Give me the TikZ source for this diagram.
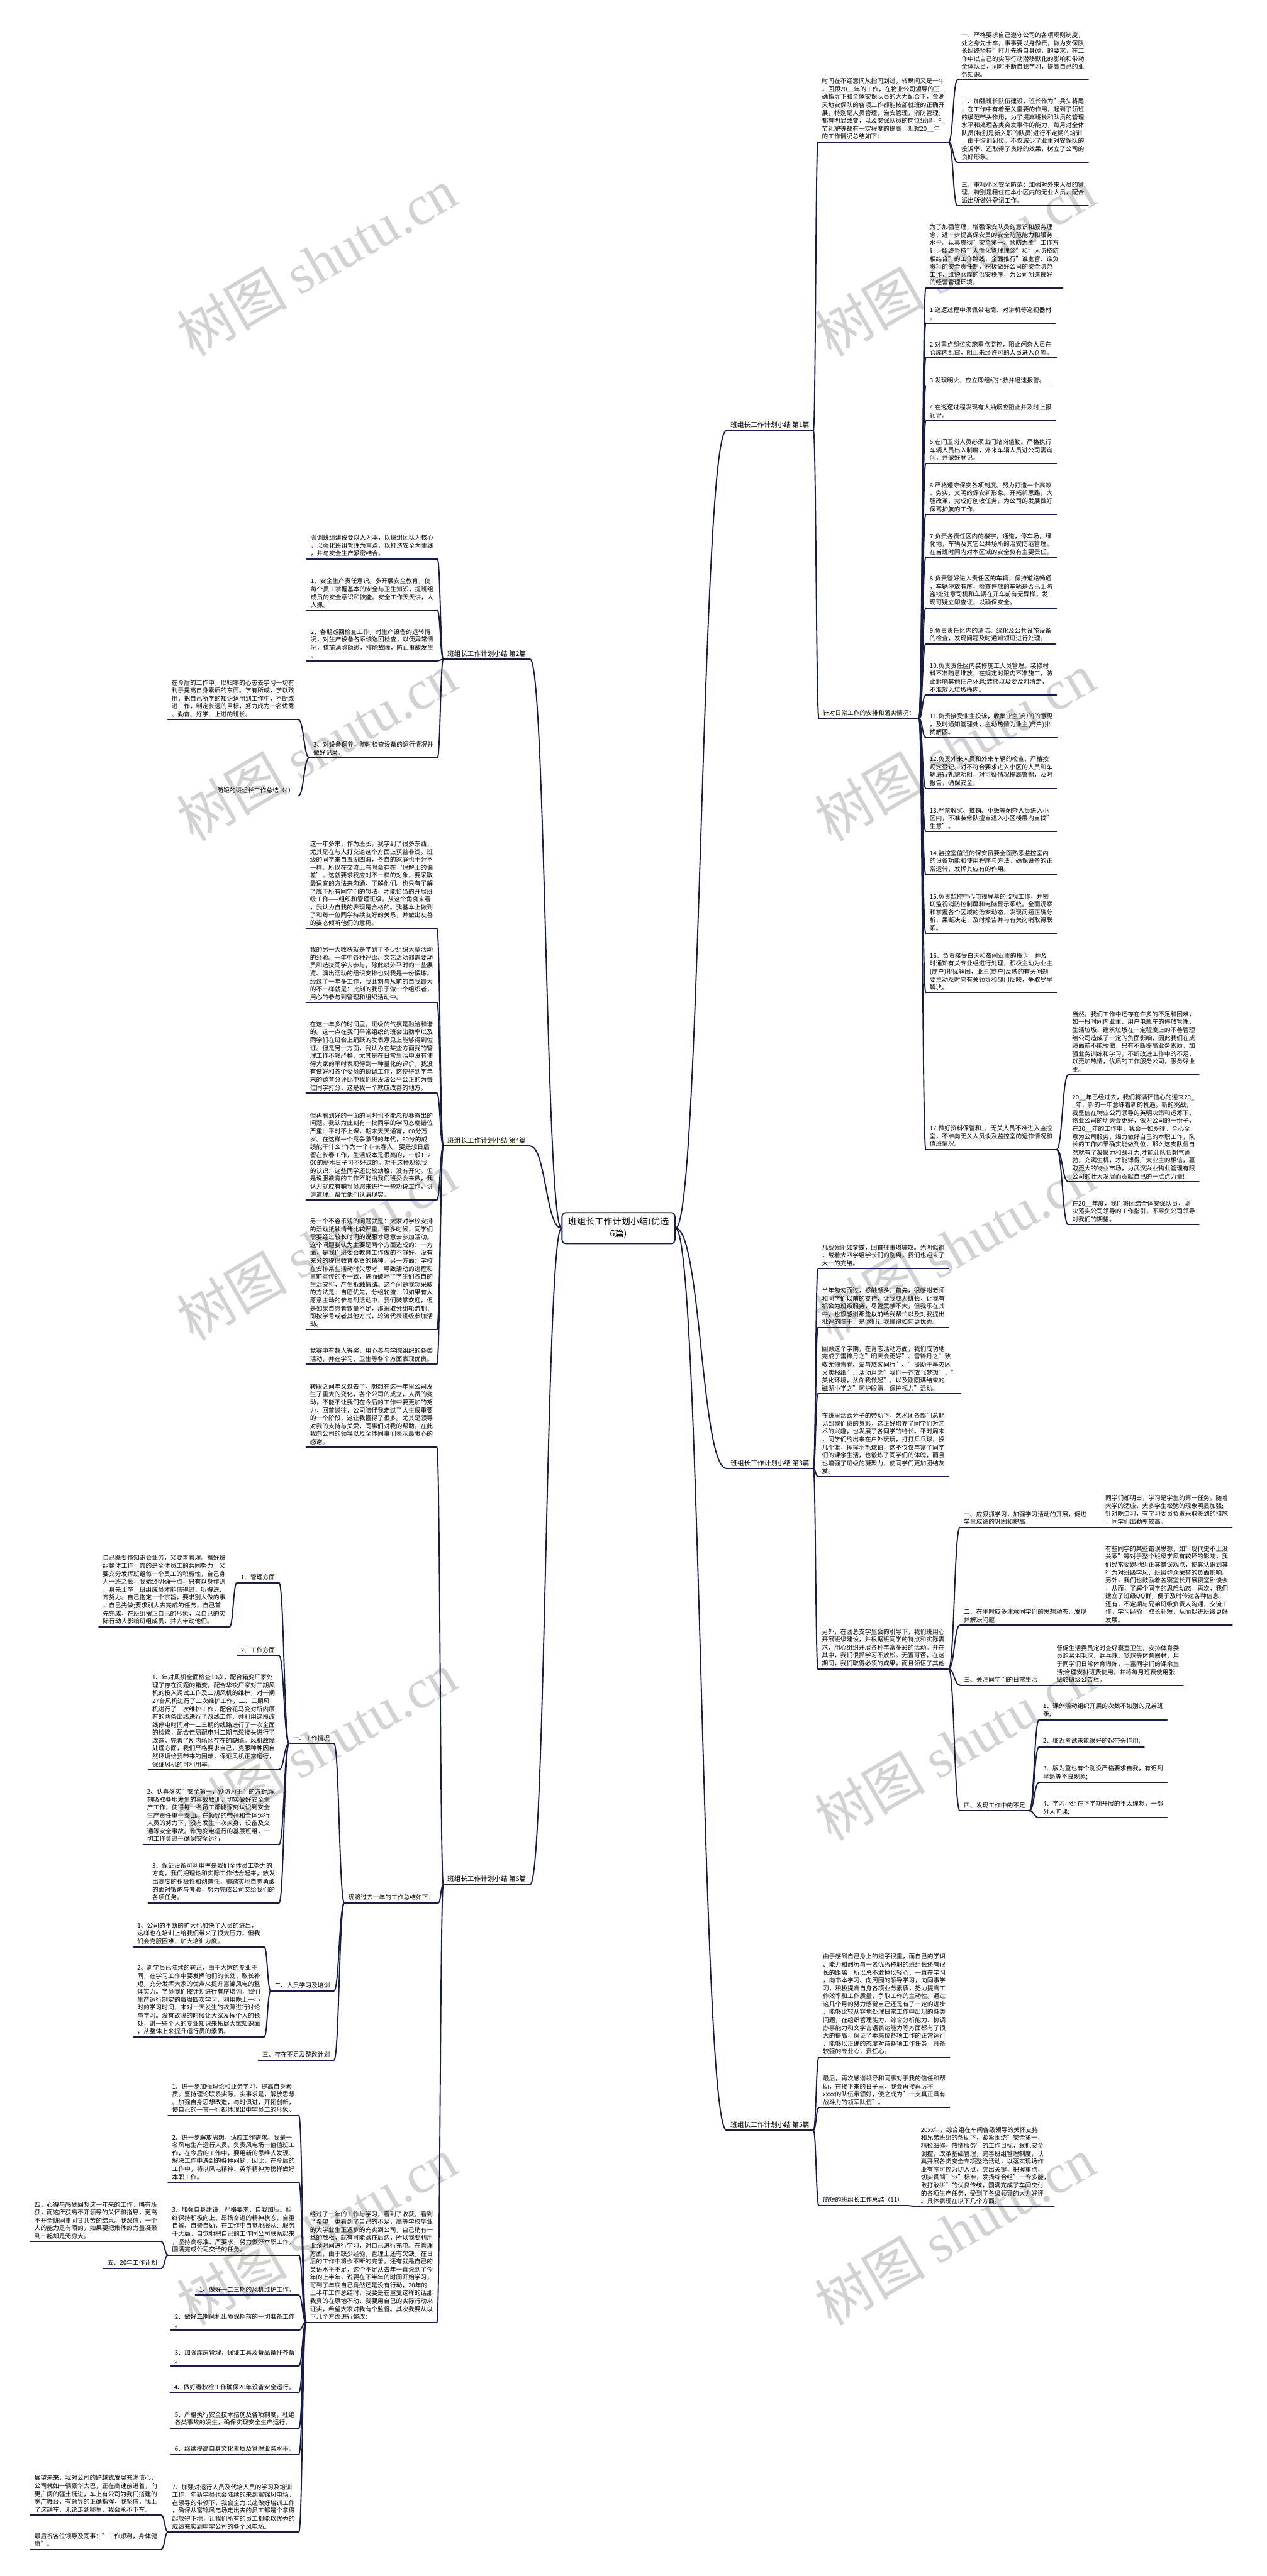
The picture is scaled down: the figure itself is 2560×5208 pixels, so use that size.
\documentclass[tikz,border=0pt]{standalone}
\usepackage{fontspec}
\setmainfont{Noto Sans CJK SC}
\newfontfamily\wmlatin{Liberation Serif}
\usetikzlibrary{calc}
\XeTeXlinebreaklocale "zh"
\definecolor{lc}{RGB}{22,28,70}
\definecolor{wmc}{RGB}{210,210,210}
\tikzset{
 tx/.style={font=\fontsize{12.4}{16}\selectfont, align=left, inner xsep=8pt, inner ysep=5pt, text=black},
 rn/.style={tx, anchor=south west},
 lnn/.style={tx, anchor=south east},
 lab/.style={font=\fontsize{13.5}{17}\selectfont, inner xsep=8pt, inner ysep=5pt},
 cn/.style={draw=lc, line width=2.4pt, line cap=round, to path={let \p1=(\tikztostart), \p2=(\tikztotarget) in .. controls ({0.5*\x1+0.5*\x2},\y1) and ({0.5*\x1+0.5*\x2},\y2) .. (\tikztotarget)}},
 ulin/.style={draw=lc, line width=2.4pt, line cap=round},
 wmk/.style={text=wmc, rotate=30, font=\fontsize{112}{112}\selectfont},
}
\begin{document}
\begin{tikzpicture}[x=1pt,y=-1pt]
\useasboundingbox (0,0) rectangle (2560,5208);
\fill[white] (0,0) rectangle (2560,5208);
% watermarks
\foreach \wx in {640,1930}{\foreach \wy in {530,1510,2520,3530,4510}{
 \node[wmk] at (\wx,\wy) {树图 {\wmlatin shutu.cn}};}}
% center
\node[draw=lc, line width=2.4pt, rounded corners=8pt, fill=white, align=center, font=\fontsize{18}{24}\selectfont, inner xsep=12pt, inner ysep=10pt] (C) at (1250,2483) {班组长工作计划小结(优选\\6篇)};
% ===== branch labels
\node[lab, anchor=south east] (B1) at (1644,870) {班组长工作计划小结 第1篇};
\node[lab, anchor=south east] (B3) at (1644,2969) {班组长工作计划小结 第3篇};
\node[lab, anchor=south east] (B5) at (1644,4307) {班组长工作计划小结 第5篇};
\node[lab, anchor=south west] (B2) at (896,1333) {班组长工作计划小结 第2篇};
\node[lab, anchor=south west] (B4) at (896,2317) {班组长工作计划小结 第4篇};
\node[lab, anchor=south west] (B6) at (896,3810) {班组长工作计划小结 第6篇};
% ===== 第1篇
\node[rn] (r1) at (1653,287) {时间在不经意间从指间划过，转瞬间又是一年\\，回顾20\_\_年的工作，在物业公司领导的正\\确指导下和全体安保队员的大力配合下，金湖\\天地安保队的各项工作都能按部就班的正确开\\展，特别是人员管理，治安管理，消防管理，\\都有明显改变，以及安保队员的岗位纪律，礼\\节礼貌等都有一定程度的提高，现就20\_\_年\\的工作情况总结如下：};
\node[rn] (r1a) at (1935,162) {一、严格要求自己遵守公司的各项规则制度，\\处之身先士卒，事事要以身做责，做为安保队\\长始终坚持"打儿先得自身硬，的要求，在工\\作中以自己的实际行动潜移默化的影响和带动\\全体队员，同时不断自我学习，提高自己的业\\务知识。};
\node[rn] (r1b) at (1935,328) {二、加强班长队伍建设，班长作为"兵头将尾\\，在工作中有着至关重要的作用，起到了领班\\的模范带头作用，为了提高班长和队员的管理\\水平和处理各类突发事件的能力，每月对全体\\队员(特别是新入职的队员)进行不定期的培训\\，由于培训到位，不仅减少了业主对安保队的\\投诉率，还取得了良好的效果，树立了公司的\\良好形象。};
\node[rn] (r1c) at (1935,416) {三、重视小区安全防范：加强对外来人员的管\\理，特别是租住在本小区内的无业人员，配合\\派出所做好登记工作。};
\node[rn] (dj) at (1655,1453) {针对日常工作的安排和落实情况：};
\node[rn] (r2) at (1871,582) {为了加强管理，增强保安队员的意识和服务理\\念，进一步提高保安员的安全防范能力和服务\\水平。认真贯彻"安全第一、预防为主"工作方\\针，始终坚持"人性化管理理念"和"人防技防\\相结合"的工作路线，全面推行"谁主管、谁负\\责"的安全责任制，积极做好公司的安全防范\\工作，维护仓库的治安秩序，为公司创造良好\\的经营管理环境。};
\node[rn] (i1) at (1871,653) {1.巡逻过程中须佩带电筒、对讲机等巡视器材\\。};
\node[rn] (i2) at (1871,724) {2.对重点部位实施重点监控，阻止闲杂人员在\\仓库内乱窜，阻止未经许可的人员进入仓库。};
\node[rn] (i3) at (1871,780) {3.发现明火，应立即组织扑救并迅速报警。};
\node[rn] (i4) at (1871,851) {4.在巡逻过程发现有人抽烟应阻止并及时上报\\领导。};
\node[rn] (i5) at (1871,937) {5.在门卫岗人员必须出门站岗值勤。严格执行\\车辆人员出入制度，外来车辆人员进公司需询\\问，并做好登记。};
\node[rn] (i6) at (1871,1040) {6.严格遵守保安各项制度。努力打造一个高效\\、务实、文明的保安新形象。开拓新思路，大\\胆改革，完成好创收任务，为公司的发展做好\\保驾护航的工作。};
\node[rn] (i7) at (1871,1127) {7.负责各责任区内的楼宇，通道，停车场，绿\\化地，车辆及其它公共场所的治安防范管理。\\在当班时间内对本区域的安全负有主要责任。};
\node[rn] (i8) at (1871,1229) {8.负责管好进入责任区的车辆，保持道路畅通\\，车辆停放有序，检查停放的车辆是否已上防\\盗锁;注意司机和车辆在开车前有无异样，发\\现可疑立即查证，以确保安全。};
\node[rn] (i9) at (1871,1302) {9.负责责任区内的清洁、绿化及公共设施设备\\的检查，发现问题及时通知领班进行处理。};
\node[rn] (i10) at (1871,1405) {10.负责责任区内装修施工人员管理。装修材\\料不准随意堆放，在规定时限内不准施工，防\\止影响其他住户休息;装修垃圾要及时清走，\\不准放入垃圾桶内。};
\node[rn] (i11) at (1871,1491) {11.负责接受业主投诉，收集业主(商户)的意见\\，及时通知管理处，主动热情为业主(商户)排\\扰解困。};
\node[rn] (i12) at (1871,1594) {12.负责外来人员和外来车辆的检查，严格按\\规定登记。对不符合要求进入小区的人员和车\\辆进行礼貌劝阻，对可疑情况提高警惕，及时\\报告，确保安全。};
\node[rn] (i13) at (1871,1681) {13.严禁收买、推销、小贩等闲杂人员进入小\\区内，不准装修队擅自进入小区楼层内自找"\\生意"。};
\node[rn] (i14) at (1871,1768) {14.监控室值班的保安员要全面熟悉监控室内\\的设备功能和使用程序与方法，确保设备的正\\常运转，发挥其应有的作用。};
\node[rn] (i15) at (1871,1887) {15.负责监控中心电视屏幕的监视工作，并密\\切监视消防控制屏和电脑显示系统。全面观察\\和掌握各个区域的治安动态，发现问题正确分\\析，果断决定，及时报告并与有关岗哨取得联\\系。};
\node[rn] (i16) at (1871,2007) {16、负责接受白天和夜间业主的投诉，并及\\时通知有关专业组进行处理，积极主动为业主\\(商户)排扰解困，业主(商户)反映的有关问题\\要主动及时向有关领导和部门反映，争取尽早\\解决。};
\node[rn] (i17) at (1871,2324) {17.做好资料保管和\_，无关人员不准进入监控\\室，不准向无关人员谈及监控室的运作情况和\\值班情况。};
\node[rn] (d1) at (2159,2173) {当然，我们工作中还存在许多的不足和困难，\\如一段时间内业主、用户电瓶车的停放管理，\\生活垃圾、建筑垃圾在一定程度上的不善管理\\给公司造成了一定的负面影响，因此我们在成\\绩面前不能骄傲，只有不断提高业务素质，加\\强业务训练和学习，不断改进工作中的不足，\\以更加热情，优质的工作服务公司，服务好业\\主。};
\node[rn] (d2) at (2159,2389) {20\_\_年已经过去，我们将满怀信心的迎来20\_\\\_年，新的一年意味着新的机遇，新的挑战，\\我坚信在物业公司领导的英明决策和运筹下，\\物业公司的明天会更好，做为公司的一份子，\\在20\_\_年的工作中，我会一如既往，全心全\\意为公司服务，竭力做好自己的本职工作，队\\长的工作如果确实能做到位，那么这支队伍自\\然就有了凝聚力和战斗力;才能让队伍朝气蓬\\勃，充满生机，才能博得广大业主的相信，赢\\取更大的物业市场，为武汉兴业物业管理有限\\公司的壮大发展而贡献自己的一点点力量!};
\node[rn] (d3) at (2159,2476) {在20\_\_年度，我们将团结全体安保队员，坚\\决落实公司领导的工作指引，不辜负公司领导\\对我们的期望。};
% ===== 第3篇
\node[rn] (c1) at (1653,2565) {几载光阴如梦蝶，回首往事堪嗟叹。光阴似箭\\，载着大四学姐学长们的别离，我们也迎来了\\大一的完结。};
\node[rn] (c2) at (1653,2684) {半年匆匆而过，感触颇多。首先，很感谢老师\\和同学们以前的支持，让我成为班长，让我有\\机会为班级服务，尽管贡献不大，但我乐在其\\中，也很感谢那些以前给我帮忙以及对我提出\\批评的院干，是你们让我懂得如何更优秀。};
\node[rn] (c3) at (1653,2818) {回顾这个学期，在青志活动方面，我们成功地\\完成了雷锋月之"明天会更好"、雷锋月之"致\\敬无悔青春、爱与旅客同行"、"援助干旱灾区\\义卖报纸"、活动月之"我们一齐放飞梦想"，"\\美化环境，从你我做起"，以及刚圆满结束的\\磁湖小学之"呵护眼睛，保护视力"活动。};
\node[rn] (c4) at (1653,2985) {在班里活跃分子的带动下，艺术团各部门总能\\见到我们班的身影，这正好培养了同学们对艺\\术的兴趣，也发展了各同学的特长。平时周末\\，同学们约出来在户外玩玩，打打乒乓球，投\\几个篮，挥挥羽毛球拍，这不仅仅丰富了同学\\们的课余生活，也锻炼了同学们的体魄，而且\\也增强了班级的凝聚力，使同学们更加团结友\\爱。};
\node[rn] (c5) at (1653,3374) {另外，在团总支学生会的引导下，我们班用心\\开展班级建设，并根据班同学的特点和实际需\\求，用心组织开展各种丰富多彩的活动。并在\\其中，我们很抓学习不放松。无置可否，在这\\期间，我们取得必须的成果，而且领悟了其他};
\node[rn] (e1) at (1940,3088) {一、应狠抓学习，加强学习活动的开展，促进\\学生成绩的巩固和提高};
\node[rn] (e1a) at (2226,3088) {同学们都明白，学习是学生的第一任务。随着\\大学的适应，大多学生松弛的现象明显加强;\\针对晚自习，有学习委员负责采取签到的措施\\，同学们出勤率较高。};
\node[rn] (e2) at (1940,3286) {二、在平时应多注意同学们的思想动态，发现\\并解决问题};
\node[rn] (e2a) at (2226,3286) {有些同学的某些错误思想，如"现代史不上没\\关系"等对于整个班级学风有较坏的影响，我\\们经常委婉地纠正其错误观点，使其认识到其\\行为对班级学风、班级群众荣誉的负面影响。\\另外，我们也鼓励着各寝室长开展寝室卧谈会\\，从而，了解个同学的思想动态。再次，我们\\建立了班级QQ群，便于及时传达各种信息，\\还有，不定期与兄弟班级负责人沟通，交流工\\作，学习经验，取长补短，从而促进班级更好\\发展。};
\node[rn] (e3) at (1940,3407) {三、关注同学们的日常生活};
\node[rn] (e3a) at (2127,3407) {督促生活委员定时查好寝室卫生，安排体育委\\员购买羽毛球、乒乓球、篮球等体育器材，用\\于同学们日常体育锻炼，丰富同学们的课余生\\活;合理安排班费使用，并将每月班费使用张\\贴於班级公告栏。};
\node[rn] (e4) at (1940,3661) {四、发现工作中的不足};
\node[rn] (f1) at (2100,3477) {1、课外活动组织开展的次数不如别的兄弟班\\多;};
\node[rn] (f2) at (2100,3532) {2、临近考试未能很好的起带头作用;};
\node[rn] (f3) at (2100,3604) {3、版为重也有个别没严格要求自我，有迟到\\早退等不良现象;};
\node[rn] (f4) at (2100,3675) {4、学习小组在下学期开展的不太理想，一部\\分人旷课;};
% ===== 第5篇
\node[rn] (g1) at (1655,4159) {由于感到自己身上的担子很重，而自己的学识\\、能力和阅历与一名优秀称职的班组长还有很\\长的距离，所以总不敢掉以轻心，一直在学习\\，向书本学习、向周围的领导学习，向同事学\\习，积极提高自身各项业务素质，努力提高工\\作效率和工作质量，争取工作的主动性。通过\\这几个月的努力感觉自己还是有了一定的进步\\，能够比较从容地处理日常工作中出现的各类\\问题，在组织管理能力、综合分析能力、协调\\办事能力和文字言语表达能力等方面都有了很\\大的提高，保证了本岗位各项工作的正常运行\\，能够以正确的态度对待各项工作任务，具备\\较强的专业心，责任心。};
\node[rn] (g2) at (1655,4261) {最后，再次感谢领导和同事对于我的信任和帮\\助，在接下来的日子里，我会再接再厉将\\xxxx的队伍带领好，使之成为"一支真正具有\\战斗力的领军队伍"。};
\node[rn] (g3) at (1655,4459) {简短的班组长工作总结（11）};
\node[rn] (g3a) at (1853,4461) {20xx年，综合组在车间各级领导的关怀支持\\和兄弟班组的帮助下，紧紧围绕"安全第一，\\精检细修，热情服务"的工作目标，狠抓安全\\调控，改革基础管理，完善班组管理制度，认\\真开展各类安全专项整治活动，以落实现场作\\业有序可控为切入点，突出关键，把握重点，\\切实贯彻"5s"标准，发扬综合组"一专多能，\\敢打敢拼"的优良传统，圆满完成了车间交付\\的各项生产任务，受到了各级领导的大力好评\\。具体表现在以下几个方面。};
% ===== 第2篇
\node[lnn] (h1) at (884,1130) {强调班组建设要以人为本，以班组团队为核心\\，以强化班组管理为重点，以打造安全为主线\\，并与安全生产紧密结合。};
\node[lnn] (h2) at (884,1234) {1、安全生产责任意识。多开展安全教育，使\\每个员工掌握基本的安全与卫生知识，提班组\\成员的安全意识和技能。安全工作天天讲，人\\人抓。};
\node[lnn] (h3) at (884,1336) {2、各期巡回检查工作，对生产设备的运转情\\况，对生产设备各系统巡回检查，以便异常情\\况，措施消除隐患，排除故障，防止事故发生\\。};
\node[lnn] (h4) at (884,1532) {3、对设备保养，随时检查设备的运行情况并\\做好记录。};
\node[lnn] (h4a) at (603,1455) {在今后的工作中，以归零的心态去学习一切有\\利于提高自身素质的东西。学有所成，学以致\\用，把自己所学的知识运用到工作中，不断改\\进工作，制定长远的目标，努力成为一名优秀\\、勤奋、好学、上进的班长。};
\node[lnn] (h4b) at (603,1609) {简短的班组长工作总结（4）};
% ===== 第4篇
\node[lnn] (k1) at (883,1877) {这一年多来，作为班长，我学到了很多东西，\\尤其是在与人打交道这个方面上获益非浅。班\\级的同学来自五湖四海，各自的家庭也十分不\\一样，所以在交流上有时会存在‘理解上的偏\\差’。这就要求我应对不一样的对象，要采取\\最适宜的方法来沟通，了解他们。也只有了解\\了底下所有同学们的想法，才能恰当的开展班\\级工作——组织和管理班级。从这个角度来看\\，我认为自我的表现是合格的。我基本上做到\\了和每一位同学持续友好的关系，并做出友善\\的姿态倾听他们的意见。};
\node[lnn] (k2) at (883,2027) {我的另一大收获就是学到了不少组织大型活动\\的经验。一年中各种评比、文艺活动都需要动\\员和选拔同学去参与，除此以外平时的一些展\\览、演出活动的组织安排也对我是一份锻炼。\\经过了一年多工作，我此刻与从前的自我最大\\的不一样就是：此刻的我乐于做一个组织者，\\用心的参与到管理和组织活动中。};
\node[lnn] (k3) at (883,2210) {在这一年多的时间里，班级的气氛是融洽和谐\\的。这一点在我们平常组织的班会出勤率以及\\同学们在班会上踊跃的发表意见上能够得到佐\\证。但是另一方面，我认为在某些方面我的管\\理工作不够严格，尤其是在日常生活中没有使\\得大家的平时表现得到一种量化的评价，我没\\有做好和各个委员的协调工作，这使得到学年\\末的德育分评比中我们班没法公平公正的为每\\位同学打分，这是我一个就应改善的地方。};
\node[lnn] (k4) at (883,2426) {但再看到好的一面的同时也不能忽视暴露出的\\问题。我认为此刻有一批同学的学习态度错位\\严重：平时不上课，期末天天通宵，60分万\\岁。在这样一个竞争激烈的年代，60分的成\\绩能干什么?作为一个非长春人，要是想日后\\留在长春工作，生活成本是很高的，一般1\textasciitilde2\\00的薪水日子可不好过的。对于这种现象我\\的认识：这些同学还比较幼稚，没有开化。但\\是说服教育的工作不能由我们班委会来做，我\\认为就应有辅导员您来进行一些劝说工作，讲\\讲道理。帮忙他们认清现实。};
\node[lnn] (k5) at (883,2688) {另一个不容乐观的问题就是：大家对学校安排\\的活动抵触情绪比较严重，很多时候，同学们\\需要经过较长时间的说服才愿意去参加活动。\\这个问题我认为主要是两个方面造成的：一方\\面，是我们班委会教育工作做的不够好，没有\\充分的提倡教育奉贤的精神。另一方面：学校\\在安排某些活动时欠思考，导致活动的进程和\\事前宣传的不一致，进而破坏了学生们各自的\\生活安排，产生抵触情绪。这个问题我想采取\\的方法是：自愿优先，分组轮流：即如果有人\\愿意主动的参与到活动中，我们鼓掌欢迎，但\\是如果自愿者数量不足，那采取分组轮流制：\\即按学号或者其他方式，轮流代表班级参加活\\动。};
\node[lnn] (k6) at (883,2758) {竞赛中有数人得奖，用心参与学院组织的各类\\活动，并在学习、卫生等各个方面表现优良。};
% ===== 第6篇
\node[lnn] (m1) at (883,2926) {转眼之间年又过去了，想想在这一年里公司发\\生了重大的变化，各个公司的成立，人员的变\\动，不能不让我们在今后的工作中要更加的努\\力，回首过往，公司陪伴我走过了人生很重要\\的一个阶段，这让我懂得了很多。尤其是领导\\对我的支持与关爱，同事们对我的帮助。在此\\我向公司的领导以及全体同事们表示最衷心的\\感谢。};
\node[lnn] (m2) at (886,3847) {现将过去一年的工作总结如下：};
\node[lnn] (m3) at (883,4695) {经过了一年的工作与学习，看到了收获，看到\\了希望，更看到了自己的不足，高等学校毕业\\的大学业生正逐步的充实到公司，自己稍有一\\丝的放松，就有可能落在后边，所以我要利用\\业余时间进行学习，对自己进行充电。在管理\\方面，由于缺少经验，管理上还有欠缺，在日\\后的工作中将会不断的完善。还有就是自己的\\英语水平不足，这个不足从去年一直说到了今\\年的上半年，说要在下半年的时间开始学习，\\可到了年底自己竟然还是没有行动，20年的\\上半年工作总结时，我要是在重复这样的话那\\我真的在原地不动，我要用自己的实际行动来\\证实，希望大家对我有个监督。其次我要从以\\下几个方面进行整改：};
\node[lnn] (n1) at (675,3525) {一、工作情况};
\node[lnn] (n2) at (675,4025) {二、人员学习及培训};
\node[lnn] (n3) at (675,4165) {三、存在不足及整改计划};
\node[lnn] (p1) at (564,3200) {1、管理方面};
\node[lnn] (p2) at (564,3347) {2、工作方面};
\node[lnn] (p3) at (564,3578) {1、年对风机全面检查10次，配合箱变厂家处\\理了存在问题的箱变，配合华锐厂家对三期风\\机的投入调试工作及二期风机的维护，对一期\\27台风机进行了二次维护工作，二、三期风\\机进行了二次维护工作，配合花马变对所内原\\有的两条出线进行了改线工作，并利用这段改\\线停电时间对一二三期的线路进行了一次全面\\的检修，配合佳局配电对二期电缆接头进行了\\改造，完善了所内场区存在的缺陷。风机故障\\处理方面，我们严格要求自己，克服种种因自\\然环境给我带来的困难，保证风机正常运行，\\保证风机的可利用率。};
\node[lnn] (p4) at (564,3729) {2、认真落实"安全第一，预防为主"的方针,深\\刻吸取各地发生的事故教训，切实做好安全生\\产工作，使得每一名员工都能深刻认识到安全\\生产责任重于泰山。在领导的带领和全体运行\\人员的努力下，没有发生一次人身、设备及交\\通等安全事故。作为变电运行的基层班组，一\\切工作莫过于确保安全运行};
\node[lnn] (p5) at (564,3847) {3、保证设备可利用率是我们全体员工努力的\\方向，我们把理论和实际工作结合起来，散发\\出高度的积极性和创造性，脚踏实地自觉勇敢\\的面对锻炼与考验，努力完成公司交给我们的\\各项任务。};
\node[lnn] (q1) at (464,3289) {自己既要懂知识会业务，又要善管理。搞好班\\组整体工作，靠的是全体员工的共同努力，又\\要充分发挥班组每一个员工的积极性，自己身\\为一班之长，我始终明确一点，只有以身作则\\、身先士卒，班组成员才能信得过、听得进、\\齐努力。自己抱定一个宗旨，要求别人做的事\\，自己先做;要求别人去完成的任务，自己首\\先完成，在班组摆正自己的形象，以自己的实\\际行动去影响班组成员，并去带动他们。};
\node[lnn] (s1) at (534,3936) {1、公司的不断的扩大也加快了人员的进出，\\这样也在培训上给我们带来了很大压力，但我\\们会克服困难，加大培训力度。};
\node[lnn] (s2) at (534,4118) {2、新学员已陆续的转正，由于大家的专业不\\同，在学习工作中要发挥他们的长处，取长补\\短，充分发挥大家的优点来提升富锦风电的整\\体实力。学员我们按计划进行有序培训，我们\\生产运行制定的每周四次学习，利用晚上一小\\时的学习时间，来对一天发生的故障进行讨论\\与学习。没有故障的时候让大家发挥个人的长\\处，讲一些个人的专业知识来拓展大家知识面\\，从整体上来提升运行员的素质。};
\node[lnn] (t1) at (604,4277) {1、进一步加强理论和业务学习，提高自身素\\质。坚持理论联系实际，实事求是，解放思想\\。加强自身思想改造，与时俱进，开拓创新，\\使自己的一言一行都体现出中宇员工的形象。};
\node[lnn] (t2) at (604,4412) {2、进一步解放思想，适应工作需求。我是一\\名风电生产运行人员，负责风电场一值值班工\\作，在今后的工作中，要用新的思维去发现、\\解决工作中遇到的各种问题，因此，在今后的\\工作中，将以风电精神、英华精神为榜样做好\\本职工作。};
\node[lnn] (t3) at (604,4559) {3、加强自身建设，严格要求，自我加压。始\\终保持积极向上、昂扬奋进的精神状态，自重\\自省、自警自励，在工作中自觉地服从、服务\\于大局，自觉地把自己的工作同公司联系起来\\，坚持高标准、严要求，努力做好本职工作，\\圆满完成公司交给的任务。};
\node[lnn] (t4) at (604,4640) {1、做好一二三期的风机维护工作。};
\node[lnn] (t5) at (604,4711) {2、做好二期风机出质保期前的一切准备工作\\。};
\node[lnn] (t6) at (604,4783) {3、加强库房管理，保证工具及备品备件齐备\\。};
\node[lnn] (t7) at (604,4837) {4、做好春秋检工作确保20年设备安全运行。};
\node[lnn] (t8) at (604,4909) {5、严格执行安全技术措施及各项制度，杜绝\\各类事故的发生，确保实现安全生产运行。};
\node[lnn] (t9) at (604,4962) {6、继续提高自身文化素质及管理业务水平。};
\node[lnn] (t10) at (604,5119) {7、加强对运行人员及代培人员的学习及培训\\工作，年新学员也会陆续的来到富锦风电场，\\在领导的带领下，我会全力以赴做好培训工作\\，确保从富锦风电场走出去的员工都是个拿得\\起放得下地，让我们所有的员工都能以优秀的\\成绩充实到中宇公司的各个风电场。};
\node[lnn] (u1) at (326,4532) {四、心得与感受回想这一年来的工作，略有所\\获，而这所获离不开领导的关怀和指导，更离\\不开全班同事同甘共苦的结果。我深信，一个\\人的能力是有限的，如果要把集体的力量凝聚\\到一起却是无穷大。};
\node[lnn] (u2) at (326,4586) {五、20年工作计划};
\node[lnn] (v1) at (326,5085) {展望未来，我对公司的跨越式发展充满信心，\\公司就如一辆豪华大巴，正在高速前进着，向\\更广阔的疆土挺进，车上有公司为我们搭建的\\宽广舞台，有领导的正确指挥，我坚信，我上\\了这趟车，无论走到哪里，我会永不下车。};
\node[lnn] (v2) at (326,5154) {最后祝各位领导及同事："工作顺利，身体健\\康"。};
% ===== underlines
\foreach \n in {B1,B2,B3,B4,B5,B6,r1,r1a,r1b,r1c,dj,r2,i1,i2,i3,i4,i5,i6,i7,i8,i9,i10,i11,i12,i13,i14,i15,i16,i17,d1,d2,d3,c1,c2,c3,c4,c5,e1,e1a,e2,e2a,e3,e3a,e4,f1,f2,f3,f4,g1,g2,g3,g3a,h1,h2,h3,h4,h4a,h4b,k1,k2,k3,k4,k5,k6,m1,m2,m3,n1,n2,n3,p1,p2,p3,p4,p5,q1,s1,s2,t1,t2,t3,t4,t5,t6,t7,t8,t9,t10,u1,u2,v1,v2}
 \draw[ulin] (\n.south west) -- (\n.south east);
% ===== connectors right
\foreach \b in {B1,B3,B5} \draw[cn] (C.east) to (\b.south west);
\foreach \c in {r1,dj} \draw[cn] (B1.south east) to (\c.south west);
\foreach \c in {r1a,r1b,r1c} \draw[cn] (r1.south east) to (\c.south west);
\foreach \c in {r2,i1,i2,i3,i4,i5,i6,i7,i8,i9,i10,i11,i12,i13,i14,i15,i16,i17} \draw[cn] (dj.south east) to (\c.south west);
\foreach \c in {d1,d2,d3} \draw[cn] (i17.south east) to (\c.south west);
\foreach \c in {c1,c2,c3,c4,c5} \draw[cn] (B3.south east) to (\c.south west);
\foreach \c in {e1,e2,e3,e4} \draw[cn] (c5.south east) to (\c.south west);
\draw[cn] (e1.south east) to (e1a.south west);
\draw[cn] (e2.south east) to (e2a.south west);
\draw[cn] (e3.south east) to (e3a.south west);
\foreach \c in {f1,f2,f3,f4} \draw[cn] (e4.south east) to (\c.south west);
\foreach \c in {g1,g2,g3} \draw[cn] (B5.south east) to (\c.south west);
\draw[cn] (g3.south east) to (g3a.south west);
% ===== connectors left
\foreach \b in {B2,B4,B6} \draw[cn] (C.west) to (\b.south east);
\foreach \c in {h1,h2,h3,h4} \draw[cn] (B2.south west) to (\c.south east);
\foreach \c in {h4a,h4b} \draw[cn] (h4.south west) to (\c.south east);
\foreach \c in {k1,k2,k3,k4,k5,k6} \draw[cn] (B4.south west) to (\c.south east);
\foreach \c in {m1,m2,m3} \draw[cn] (B6.south west) to (\c.south east);
\foreach \c in {n1,n2,n3} \draw[cn] (m2.south west) to (\c.south east);
\foreach \c in {p1,p2,p3,p4,p5} \draw[cn] (n1.south west) to (\c.south east);
\draw[cn] (p1.south west) to (q1.south east);
\foreach \c in {s1,s2} \draw[cn] (n2.south west) to (\c.south east);
\foreach \c in {t1,t2,t3,t4,t5,t6,t7,t8,t9,t10} \draw[cn] (m3.south west) to (\c.south east);
\foreach \c in {u1,u2} \draw[cn] (t3.south west) to (\c.south east);
\foreach \c in {v1,v2} \draw[cn] (t10.south west) to (\c.south east);
\end{tikzpicture}
\end{document}
